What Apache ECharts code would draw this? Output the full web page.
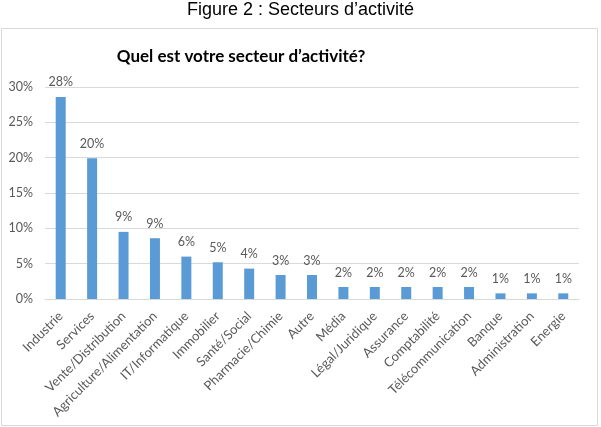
<!DOCTYPE html>
<html><head><meta charset="utf-8">
<script src="https://cdn.jsdelivr.net/npm/echarts@6/dist/echarts.min.js"></script>
<style>html,body{margin:0;padding:0;background:#fff}#c{width:601px;height:427px}</style>
</head><body><div id="c"></div>
<script>
const categories = ["Industrie","Services","Vente/Distribution","Agriculture/Alimentation","IT/Informatique","Immobilier","Santé/Social","Pharmacie/Chimie","Autre","Média","Légal/Juridique","Assurance","Comptabilité","Télécommunication","Banque","Administration","Energie"];
const values = [28.6,19.9,9.5,8.6,6.0,5.2,4.3,3.4,3.4,1.7,1.7,1.7,1.7,1.7,0.8,0.8,0.8];
const valueLabels = ["28%","20%","9%","9%","6%","5%","4%","3%","3%","2%","2%","2%","2%","2%","1%","1%","1%"];
const yTicks = [0,5,10,15,20,25,30];
const caption = "Figure 2 : Secteurs d\u2019activité";
const chartTitle = "Quel est votre secteur d\u2019activité?";

const chart = echarts.init(document.getElementById('c'), null, {renderer:'canvas'});
chart.setOption({
  animation:false,
  backgroundColor:'#fff',
  graphic:[
    {type:'rect', shape:{x:1.5,y:28.5,width:596,height:397}, style:{fill:'none',stroke:'#d9d9d9',lineWidth:1}, z:-1},
    {type:'text', left:'center', top:1, style:{text:caption, font:'18px "Liberation Sans", Arial, sans-serif', fill:'#000'}}
  ],
  title:{text:chartTitle, left:236, textAlign:'center', top:43,
    textStyle:{fontFamily:'Lato, "Open Sans", sans-serif', fontWeight:'bold', fontSize:17, color:'#000'}},
  grid:{left:45, right:22, top:87, bottom:128, containLabel:false},
  xAxis:{type:'category', data:categories,
    axisLine:{lineStyle:{color:'#d9d9d9'}}, axisTick:{show:false},
    axisLabel:{rotate:45, interval:0, fontFamily:'Lato, sans-serif', fontSize:13, color:'#595959', margin:15}},
  yAxis:{type:'value', min:yTicks[0], max:yTicks[yTicks.length-1], interval:5,
    axisLine:{show:false}, axisTick:{show:false},
    splitLine:{lineStyle:{color:'#d9d9d9'}},
    axisLabel:{formatter:v=>v+'%', fontFamily:'Lato, sans-serif', fontSize:12.5, color:'#595959', margin:12}},
  series:[{type:'bar', data:values, barWidth:10, itemStyle:{color:'#5b9bd5'},
    label:{show:true, position:'top', distance:8, formatter:p=>valueLabels[p.dataIndex],
      fontFamily:'Lato, sans-serif', fontSize:12.5, color:'#595959'}}]
});
</script></body></html>
